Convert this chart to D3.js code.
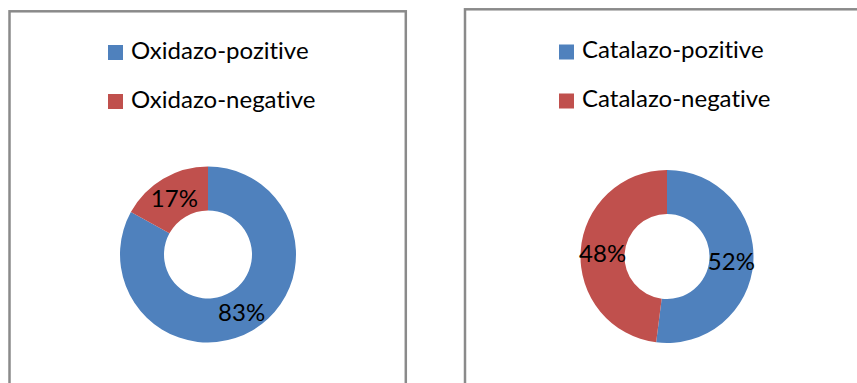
<!DOCTYPE html>
<html>
<head>
<meta charset="utf-8">
<script src="https://cdn.jsdelivr.net/npm/d3@7"></script>
<style>
  html, body { margin: 0; padding: 0; background: #ffffff; overflow: hidden; }
  svg { display: block; }
  text { font-family: Lato, "Open Sans", sans-serif; fill: #000; font-variant-ligatures: none; }
</style>
</head>
<body>
<svg id="chart" width="857" height="383"></svg>
<script>
// Test results, in percent of isolates
const oxidazoLabels = ["Oxidazo-pozitive", "Oxidazo-negative"];
const oxidazoValues = [83, 17];
const catalazoLabels = ["Catalazo-pozitive", "Catalazo-negative"];
const catalazoValues = [52, 48];
const seriesColors = ["#4f81bd", "#c0504d"];

const svg = d3.select("#chart");
const color = d3.scaleOrdinal().domain([0, 1]).range(seriesColors);

// Two chart panels, each with its own frame, legend and donut
const panels = [
  { labels: oxidazoLabels, values: oxidazoValues,
    frame: { x: 9.5, y: 11.3, w: 396.3, h: 400 },
    legend: { x: 108, y: 45 },
    donut: { cx: 208, cy: 254.5, r: 88, ir: 44 } },
  { labels: catalazoLabels, values: catalazoValues,
    frame: { x: 465, y: 9.3, w: 420, h: 400 },
    legend: { x: 559, y: 44.5 },
    donut: { cx: 667, cy: 256.5, r: 86.5, ir: 42.5 } }
];

const pie = d3.pie().sort(null).value(d => d);

panels.forEach(p => {
  const g = svg.append("g");

  g.append("rect")
    .attr("x", p.frame.x).attr("y", p.frame.y)
    .attr("width", p.frame.w).attr("height", p.frame.h)
    .attr("fill", "#ffffff")
    .attr("stroke", "#8a8a8a")
    .attr("stroke-width", 2.5);

  // Legend
  const rowGap = 49;
  const lg = g.append("g").attr("transform", `translate(${p.legend.x},${p.legend.y})`);
  p.labels.forEach((lab, i) => {
    lg.append("rect")
      .attr("x", 0).attr("y", i * rowGap)
      .attr("width", 15).attr("height", 15)
      .attr("fill", color(i));
    lg.append("text")
      .attr("x", 23).attr("y", i * rowGap + 13.5)
      .attr("font-size", 24)
      .text(lab);
  });

  // Donut
  const arc = d3.arc().innerRadius(p.donut.ir).outerRadius(p.donut.r);
  const dg = g.append("g").attr("transform", `translate(${p.donut.cx},${p.donut.cy})`);
  const arcs = pie(p.values);
  dg.selectAll("path").data(arcs).join("path")
    .attr("d", arc)
    .attr("fill", (d, i) => color(i));
  dg.selectAll("text").data(arcs).join("text")
    .attr("transform", d => `translate(${arc.centroid(d)})`)
    .attr("text-anchor", "middle")
    .attr("dominant-baseline", "central")
    .attr("font-size", 24)
    .text(d => d.data + "%");
});
</script>
</body>
</html>
